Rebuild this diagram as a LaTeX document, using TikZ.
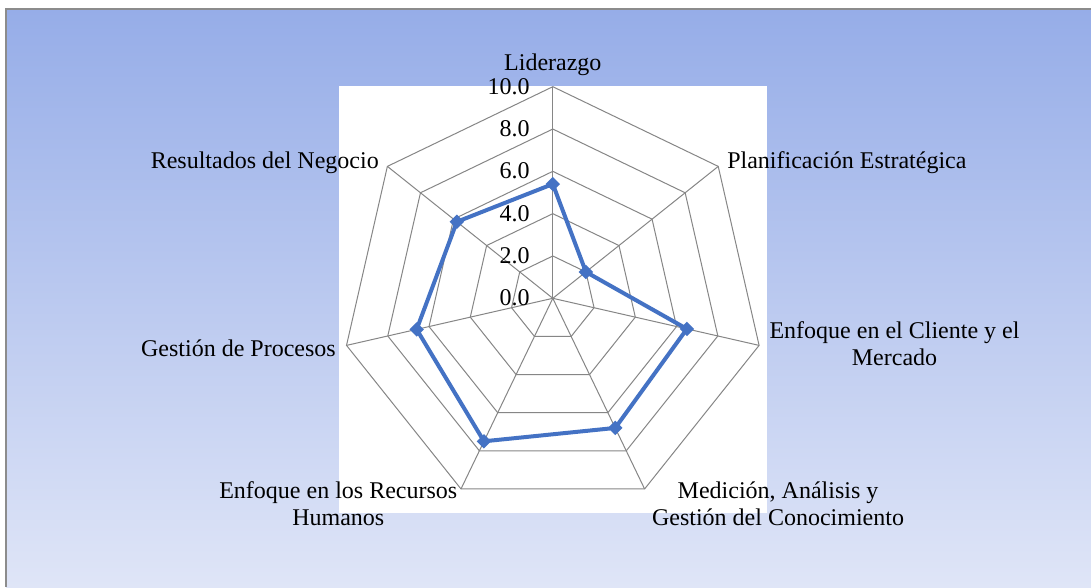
\documentclass[tikz,border=0pt]{standalone}
\usepackage{fontspec}
\setmainfont{Liberation Serif}
\usetikzlibrary{shapes.geometric}
\definecolor{bgtop}{RGB}{150,173,232}
\definecolor{bgbot}{RGB}{223,229,247}
\definecolor{gridgray}{RGB}{134,134,134}
\definecolor{framegray}{RGB}{140,140,140}
\definecolor{serie}{RGB}{68,114,196}
\tikzset{
  gridline/.style={draw=gridgray, line width=0.75pt},
  lbl/.style={font=\fontsize{18}{21}\selectfont, inner sep=0pt, text=black},
  ticklbl/.style={lbl, anchor=base east},
  datamark/.style={diamond, fill=serie, draw=none, inner sep=0pt, minimum width=11pt, minimum height=11pt},
  dataline/.style={draw=serie, line width=3pt, line join=round},
}
\begin{document}
\begin{tikzpicture}[x=0.75pt,y=-0.75pt]
\useasboundingbox (0,0) rectangle (1091,587);
\fill[white] (0,0) rectangle (1091,587);
\shade[top color=bgtop, bottom color=bgbot] (6,9) rectangle (1091,587);
\draw[framegray, line width=0.9pt] (6,587) -- (6,9) -- (1091,9);
\fill[white] (339.3,85.7) rectangle (766.7,513.3);
\begin{scope}[shift={(552.8,298.3)}]
  \foreach \L in {2,4,6,8,10} {
    \draw[gridline] ({-90}:{\L*21.16}) \foreach \k in {1,...,6} { -- ({\k*360/7-90}:{\L*21.16}) } -- cycle;
  }
  \foreach \k in {0,...,6} {
    \draw[gridline] (0,0) -- ({\k*360/7-90}:211.6);
  }
  \foreach \k/\v in {0/5.4,1/2.0,2/6.5,3/6.8,4/7.5,5/6.6,6/5.8} {
    \coordinate (p\k) at ({\k*360/7-90}:{\v*21.16});
  }
  \draw[dataline] (p0) -- (p1) -- (p2) -- (p3) -- (p4) -- (p5) -- (p6) -- cycle;
  \foreach \k in {0,...,6} {
    \node[datamark] (m\k) at (p\k) {};
  }
\end{scope}
\foreach \L/\t in {0/0.0,2/2.0,4/4.0,6/6.0,8/8.0,10/10.0} {
  \node[ticklbl] (t\L) at (530,{298.3-21.16*\L+7.5}) {\t};
}
\node[lbl, anchor=base] (lid) at (552.8,70.5) {Liderazgo};
\node[lbl, anchor=base west] (plan) at (727,168.3) {Planificación Estratégica};
\node[lbl, anchor=base] (cli1) at (894.5,338.3) {Enfoque en el Cliente y el};
\node[lbl, anchor=base] (cli2) at (894.5,365) {Mercado};
\node[lbl, anchor=base] (med1) at (778,498.3) {Medición, Análisis y};
\node[lbl, anchor=base] (med2) at (778,525) {Gestión del Conocimiento};
\node[lbl, anchor=base] (rh1) at (338.3,498.3) {Enfoque en los Recursos};
\node[lbl, anchor=base] (rh2) at (338.3,525) {Humanos};
\node[lbl, anchor=base east] (proc) at (336,356.7) {Gestión de Procesos};
\node[lbl, anchor=base east] (res) at (379,168.3) {Resultados del Negocio};
\end{tikzpicture}
\end{document}
